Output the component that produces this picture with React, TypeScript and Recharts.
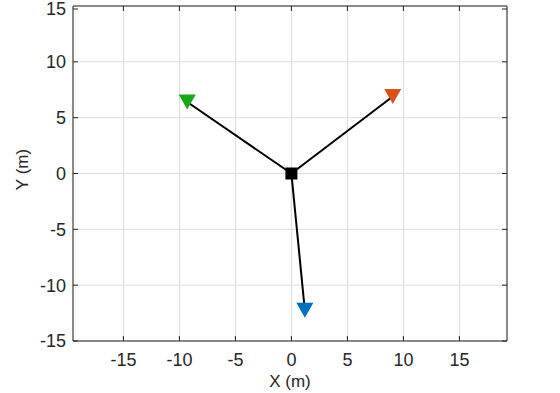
import {
  CartesianGrid,
  Scatter,
  ScatterChart,
  XAxis,
  YAxis,
  Label,
} from 'recharts';

const sourceX = [0];
const sourceY = [0];
const stationX = [-9.3, 9.05, 1.2];
const stationY = [6.4, 6.9, -12.25];
const stationColors = ['#17a717', '#d95319', '#0072bd'];
const xTicks = [-15, -10, -5, 0, 5, 10, 15];
const yTicks = [-15, -10, -5, 0, 5, 10, 15];
const xDomain: [number, number] = [-19.5, 19.25];
const yDomain: [number, number] = [-15, 15];

const axisColor = '#262626';
const fontFamily = '"Liberation Sans", Arial, Helvetica, sans-serif';
const fontSize = 18;
const labelSize = 17;
const tickSize = 6;
const xTickMargin = 6;
const yTickMargin = 1;
const innerTick = 5;

const source = sourceX.map((x, i) => ({ x, y: sourceY[i] }));
const stations = stationX.map((x, i) => ({ x, y: stationY[i], color: stationColors[i] }));
const segments = stations.map((s) => [source[0], { x: s.x, y: s.y }]);

function Square(props: any) {
  const { cx, cy } = props;
  return <rect x={cx - 6} y={cy - 6} width={12} height={12} fill="#000" />;
}

function Triangle(props: any) {
  const { cx, cy, payload } = props;
  const w = 8.5;
  const h = 7.5;
  return (
    <path
      d={`M${cx - w},${cy - h} L${cx + w},${cy - h} L${cx},${cy + h} Z`}
      fill={payload.color}
    />
  );
}

function BottomTick(props: any) {
  const { x, y, payload } = props;
  const axisY = y - tickSize - xTickMargin;
  return (
    <g>
      <line x1={x} x2={x} y1={axisY} y2={axisY - innerTick} stroke={axisColor} />
      <text x={x} y={y} dy="0.71em" textAnchor="middle" fill={axisColor} fontSize={fontSize} fontFamily={fontFamily}>
        {payload.value}
      </text>
    </g>
  );
}

function LeftTick(props: any) {
  const { x, y, payload } = props;
  const axisX = x + tickSize + yTickMargin;
  return (
    <g>
      <line x1={axisX} x2={axisX + innerTick} y1={y} y2={y} stroke={axisColor} />
      <text x={x} y={y} dy="0.355em" textAnchor="end" fill={axisColor} fontSize={fontSize} fontFamily={fontFamily}>
        {payload.value}
      </text>
    </g>
  );
}

function TopTick(props: any) {
  const { x, y } = props;
  const axisY = y + tickSize + xTickMargin;
  return <line x1={x} x2={x} y1={axisY} y2={axisY + innerTick} stroke={axisColor} />;
}

function RightTick(props: any) {
  const { x, y } = props;
  const axisX = x - tickSize - yTickMargin;
  return <line x1={axisX} x2={axisX - innerTick} y1={y} y2={y} stroke={axisColor} />;
}

function YLabel(props: any) {
  const { viewBox } = props;
  const cx = viewBox.x + 22;
  const cy = viewBox.y + viewBox.height / 2 - 4;
  return (
    <text
      x={cx}
      y={cy}
      transform={`rotate(-90 ${cx} ${cy})`}
      textAnchor="middle"
      dominantBaseline="central"
      fill={axisColor}
      fontSize={labelSize}
      fontFamily={fontFamily}
    >
      Y (m)
    </text>
  );
}

export default function App() {
  return (
    <div style={{ position: 'absolute', left: 0, top: 0, width: 560, height: 393, background: '#fff' }}>
      <ScatterChart width={560} height={393} margin={{ top: 5, right: 52, left: 0, bottom: 0 }}>
        <CartesianGrid stroke="#dcdcdc" strokeWidth={1} horizontal vertical />
        <XAxis
          type="number"
          dataKey="x"
          domain={xDomain}
          ticks={xTicks}
          allowDataOverflow
          height={52}
          tickSize={tickSize}
          tickMargin={xTickMargin}
          tickLine={false}
          axisLine={{ stroke: axisColor }}
          tick={<BottomTick />}
        >
          <Label
            value="X (m)"
            position="insideBottom"
            offset={6}
            fill={axisColor}
            fontSize={labelSize}
            fontFamily={fontFamily}
          />
        </XAxis>
        <XAxis
          xAxisId="top"
          orientation="top"
          type="number"
          dataKey="x"
          domain={xDomain}
          ticks={xTicks}
          allowDataOverflow
          height={1}
          tickSize={tickSize}
          tickMargin={xTickMargin}
          tickLine={false}
          axisLine={{ stroke: axisColor }}
          tick={<TopTick />}
        />
        <YAxis
          type="number"
          dataKey="y"
          domain={yDomain}
          ticks={yTicks}
          allowDataOverflow
          width={73}
          tickSize={tickSize}
          tickMargin={yTickMargin}
          tickLine={false}
          axisLine={{ stroke: axisColor }}
          tick={<LeftTick />}
        >
          <Label content={<YLabel />} />
        </YAxis>
        <YAxis
          yAxisId="right"
          orientation="right"
          type="number"
          dataKey="y"
          domain={yDomain}
          ticks={yTicks}
          allowDataOverflow
          width={1}
          tickSize={tickSize}
          tickMargin={yTickMargin}
          tickLine={false}
          axisLine={{ stroke: axisColor }}
          tick={<RightTick />}
        />
        {segments.map((seg, i) => (
          <Scatter
            key={`seg-${i}`}
            data={seg}
            line={{ stroke: '#000', strokeWidth: 2 }}
            shape={() => null}
            isAnimationActive={false}
          />
        ))}
        <Scatter xAxisId="top" yAxisId="right" data={source} shape={<Square />} isAnimationActive={false} />
        <Scatter data={stations} shape={<Triangle />} isAnimationActive={false} />
      </ScatterChart>
    </div>
  );
}
